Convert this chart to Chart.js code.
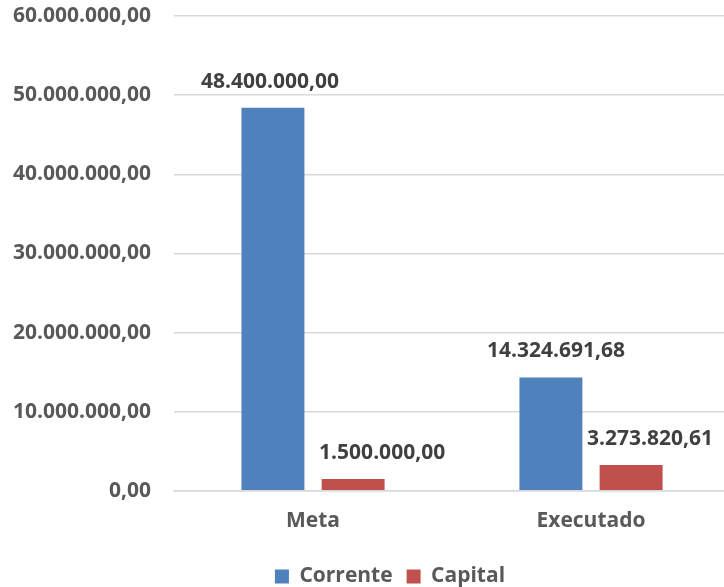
<!DOCTYPE html>
<html>
<head>
<meta charset="utf-8">
<script src="https://cdn.jsdelivr.net/npm/chart.js@4/dist/chart.umd.min.js"></script>
<style>
  html, body { margin: 0; padding: 0; background: #fff; overflow: hidden; }
  #wrap { width: 730px; height: 587px; }
</style>
</head>
<body>
<div id="wrap"><canvas id="chart"></canvas></div>
<script>
// Chart data
const categories = ['Meta', 'Executado'];
const corrente = [48400000.00, 14324691.68];
const capital = [1500000.00, 3273820.61];
const seriesNames = ['Corrente', 'Capital'];

// Excel nudges some labels sideways to avoid overlap
const labelShift = [[-3, 5], [29, 19]];

// 1.234.567,89 style
function fmtBR(v) {
  const parts = Number(v).toFixed(2).split('.');
  parts[0] = parts[0].replace(/\B(?=(\d{3})+(?!\d))/g, '.');
  return parts.join(',');
}

const textColor = '#595959';
const font = { family: '"Open Sans", sans-serif', size: 21, weight: 'bold' };

// Draw value labels above each bar
const barLabels = {
  id: 'barLabels',
  afterDatasetsDraw(chart) {
    const ctx = chart.ctx;
    ctx.save();
    ctx.font = 'bold 21px "Open Sans", sans-serif';
    ctx.fillStyle = '#404040';
    ctx.textAlign = 'center';
    ctx.textBaseline = 'alphabetic';
    chart.data.datasets.forEach((ds, i) => {
      chart.getDatasetMeta(i).data.forEach((bar, j) => {
        ctx.fillText(fmtBR(ds.data[j]), bar.x + labelShift[i][j], bar.y - 20);
      });
    });
    ctx.restore();
  }
};

// Legend sits a bit right of centre in the original
const legendShift = {
  id: 'legendShift',
  afterLayout(chart) {
    chart.legend.left += 30;
    chart.legend.right += 30;
  }
};

new Chart(document.getElementById('chart'), {
  type: 'bar',
  data: {
    labels: categories,
    datasets: [
      { label: seriesNames[0], data: corrente, backgroundColor: '#4F81BD' },
      { label: seriesNames[1], data: capital, backgroundColor: '#C0504D' }
    ]
  },
  options: {
    responsive: true,
    maintainAspectRatio: false,
    animation: false,
    categoryPercentage: 0.577,
    barPercentage: 0.785,
    layout: { padding: { left: -10, right: 0, top: 16, bottom: -10 } },
    scales: {
      y: {
        min: 0,
        max: 60000000,
        ticks: { stepSize: 10000000, color: textColor, font: font, padding: 23, callback: v => fmtBR(v) },
        grid: { color: '#d9d9d9', lineWidth: 1.5, drawTicks: false },
        border: { display: false },
        afterFit(scale) { scale.paddingTop = 0; scale.paddingBottom = 0; }
      },
      x: {
        ticks: { color: textColor, font: font, padding: 18 },
        grid: { display: false, drawTicks: false },
        border: { color: '#d9d9d9', width: 1.5 },
        afterFit(scale) { scale.paddingLeft = 0; scale.paddingRight = 0; }
      }
    },
    plugins: {
      legend: {
        position: 'bottom',
        labels: { color: textColor, font: font, boxWidth: 14, boxHeight: 14, padding: 14 }
      },
      tooltip: { enabled: false }
    }
  },
  plugins: [barLabels, legendShift]
});
</script>
</body>
</html>
